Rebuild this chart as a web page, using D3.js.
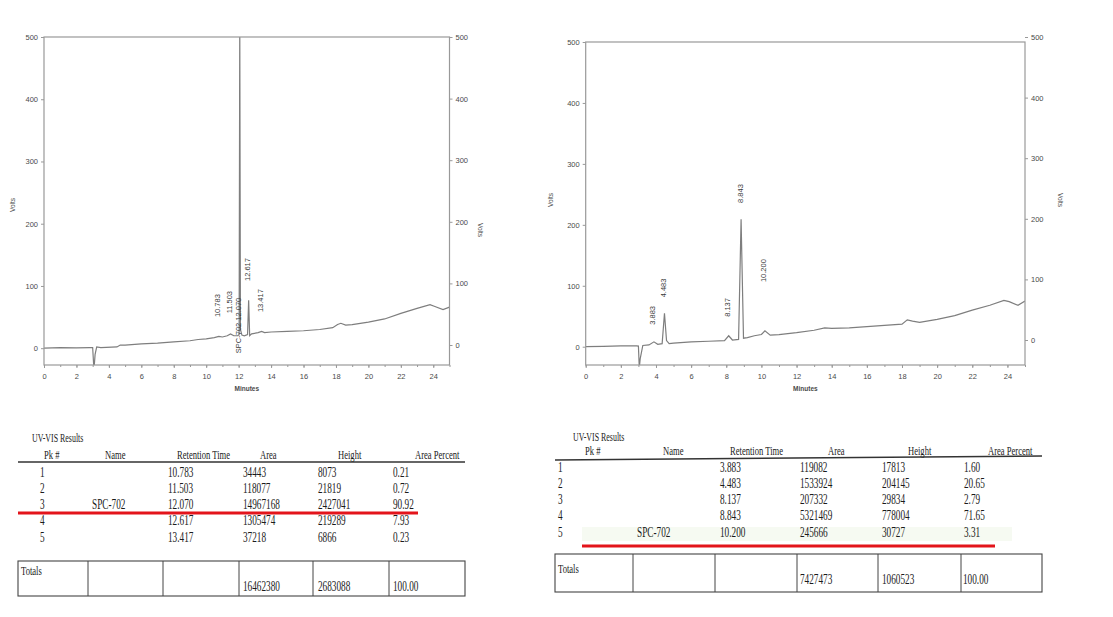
<!DOCTYPE html>
<html>
<head>
<meta charset="utf-8">
<script src="https://cdn.jsdelivr.net/npm/d3@7"></script>
<style>
  body { margin: 0; background: #fff; }
  svg { display: block; }
</style>
</head>
<body>
<div id="vis"></div>
<script>
// chromatogram traces, minutes / volts
var leftTime  = [0, 1, 2, 2.8, 3.0, 3.08, 3.15, 3.25, 3.5, 4.5, 4.7, 5, 6, 7, 8, 9, 9.5, 10, 10.5, 10.78, 11, 11.3, 11.5, 11.7, 11.95, 12.03, 12.07, 12.11, 12.2, 12.35, 12.55, 12.617, 12.68, 12.8, 13.2, 13.417, 13.6, 14, 15, 16, 17, 17.8, 18.1, 18.3, 18.6, 19, 20, 21, 22, 23, 23.8, 24.1, 24.6, 25];
var leftVolts = [0, 1, 0.5, 1, 1, -35, -10, 2, 1, 2, 5, 5, 7, 8, 10, 12, 14, 15, 17, 19, 18, 20, 23, 20, 20, 22, 530, 30, 21, 20, 22, 77, 20, 23, 25, 27, 25, 26, 27, 28, 30, 33, 38, 40, 37, 38, 42, 47, 56, 64, 70, 67, 62, 66];

var rightTime  = [0, 1, 2, 2.9, 3.0, 3.05, 3.1, 3.25, 3.6, 3.883, 4.1, 4.35, 4.483, 4.6, 4.75, 5, 6, 7, 7.9, 8.137, 8.35, 8.7, 8.843, 8.98, 9.2, 9.6, 10, 10.2, 10.5, 11, 12, 13, 13.6, 14, 15, 16, 17, 18, 18.3, 18.6, 19, 20, 21, 22, 23, 23.8, 24.1, 24.6, 25];
var rightVolts = [0, 0.5, 1.5, 1.5, 1, -35, -20, 2, 3, 8, 4, 5, 55, 10, 5, 6, 8, 9, 10, 18, 11, 12, 209, 14, 15, 18, 20, 26, 19, 20, 23, 27, 31, 30, 31, 33, 35, 37, 44, 42, 40, 45, 51, 60, 68, 76, 74, 68, 75];

// peak annotations (retention time, text, volts where the text starts)
var leftPeakRT    = [10.783, 11.503, 12.070, 12.617, 13.417];
var leftPeakText  = ["10.783", "11.503", "SPC-702  12.070", "12.617", "13.417"];
var leftPeakLabV  = [50, 56, -8, 108, 58];
var rightPeakRT   = [3.883, 4.483, 8.137, 8.843, 10.200];
var rightPeakText = ["3.883", "4.483", "8.137", "8.843", "10.200"];
var rightPeakLabV = [36, 81, 49, 236, 106];

var xTicks = [0, 2, 4, 6, 8, 10, 12, 14, 16, 18, 20, 22, 24];
var yTicks = [0, 100, 200, 300, 400, 500];

// result tables
var headers    = ["Pk #", "Name", "Retention Time", "Area", "Height", "Area Percent"];
var leftPk     = ["1", "2", "3", "4", "5"];
var leftName   = ["", "", "SPC-702", "", ""];
var leftRT     = ["10.783", "11.503", "12.070", "12.617", "13.417"];
var leftArea   = ["34443", "118077", "14967168", "1305474", "37218"];
var leftHeight = ["8073", "21819", "2427041", "219289", "6866"];
var leftPct    = ["0.21", "0.72", "90.92", "7.93", "0.23"];
var leftTotals = ["16462380", "2683088", "100.00"];

var rightPk     = ["1", "2", "3", "4", "5"];
var rightName   = ["", "", "", "", "SPC-702"];
var rightRT     = ["3.883", "4.483", "8.137", "8.843", "10.200"];
var rightArea   = ["119082", "1533924", "207332", "5321469", "245666"];
var rightHeight = ["17813", "204145", "29834", "778004", "30727"];
var rightPct    = ["1.60", "20.65", "2.79", "71.65", "3.31"];
var rightTotals = ["7427473", "1060523", "100.00"];

var width = 1113, height = 617;
var svg = d3.select('#vis').append('svg')
  .attr('width', width)
  .attr('height', height);

var axisColor = '#999';
var textColor = '#4a4a4a';
var sans = 'Liberation Sans, Arial, sans-serif';
var serif = 'Liberation Serif, Times New Roman, serif';

function chromatogram(opt) {
  var x = d3.scaleLinear().domain([0, 25]).range([opt.left, opt.right]);
  var y = d3.scaleLinear().domain([opt.yMin, 500]).range([opt.bottom, opt.top]);
  var yR = d3.scaleLinear().domain([0, 500]).range(opt.rightRange);
  var g = svg.append('g');

  g.append('clipPath').attr('id', opt.id + '-clip')
    .append('rect')
    .attr('x', opt.left).attr('y', opt.top)
    .attr('width', opt.right - opt.left).attr('height', opt.bottom - opt.top);

  var pts = opt.time.map(function (t, i) { return [t, opt.volts[i]]; });
  var line = d3.line()
    .x(function (d) { return x(d[0]); })
    .y(function (d) { return y(d[1]); });

  g.append('path')
    .datum(pts)
    .attr('clip-path', 'url(#' + opt.id + '-clip)')
    .attr('fill', 'none')
    .attr('stroke', '#7e7e7e')
    .attr('stroke-width', 1.2)
    .attr('d', line);

  // frame
  g.append('rect')
    .attr('x', opt.left).attr('y', opt.top)
    .attr('width', opt.right - opt.left).attr('height', opt.bottom - opt.top)
    .attr('fill', 'none').attr('stroke', axisColor).attr('stroke-width', 1.2);

  // axes
  var xAxis = d3.axisBottom(x).tickValues(xTicks).tickSize(3).tickPadding(6);
  var xMinor = d3.axisBottom(x).ticks(25).tickSize(2).tickFormat('');
  var yAxis = d3.axisLeft(y).tickValues(yTicks).tickSize(3).tickPadding(3);
  var yAxisR = d3.axisRight(yR).tickValues(yTicks).tickSize(3).tickPadding(3);

  [
    g.append('g').attr('transform', 'translate(0,' + opt.bottom + ')').call(xMinor),
    g.append('g').attr('transform', 'translate(0,' + opt.bottom + ')').call(xAxis),
    g.append('g').attr('transform', 'translate(' + opt.left + ',0)').call(yAxis),
    g.append('g').attr('transform', 'translate(' + opt.right + ',0)').call(yAxisR)
  ].forEach(function (a) {
    a.select('.domain').remove();
    a.selectAll('line').attr('stroke', axisColor);
    a.selectAll('text')
      .attr('fill', textColor)
      .style('font-family', sans)
      .style('font-size', '7.5px');
  });

  g.append('text')
    .attr('x', (opt.left + opt.right) / 2)
    .attr('y', opt.bottom + 26)
    .attr('text-anchor', 'middle')
    .attr('fill', textColor)
    .style('font-family', sans)
    .style('font-size', '6.5px')
    .style('font-weight', 'bold')
    .text('Minutes');

  g.append('text')
    .attr('transform', 'translate(' + opt.voltsL[0] + ',' + opt.voltsL[1] + ') rotate(-90)')
    .attr('text-anchor', 'middle')
    .attr('fill', textColor)
    .style('font-family', sans)
    .style('font-size', '6.5px')
    .text('Volts');

  g.append('text')
    .attr('transform', 'translate(' + opt.voltsR[0] + ',' + opt.voltsR[1] + ') rotate(90)')
    .attr('text-anchor', 'middle')
    .attr('fill', textColor)
    .style('font-family', sans)
    .style('font-size', '6.5px')
    .text('Volts');

  // peak labels
  g.selectAll('.peak')
    .data(opt.peakRT)
    .enter().append('text')
    .attr('class', 'peak')
    .attr('transform', function (d, i) {
      return 'translate(' + (x(d) + 1.5) + ',' + y(opt.peakV[i]) + ') rotate(-90)';
    })
    .attr('fill', '#3a3a3a')
    .style('font-family', sans)
    .style('font-size', '7.5px')
    .text(function (d, i) { return opt.peakText[i]; });
}

chromatogram({
  id: 'left', left: 44, right: 449.5, top: 37, bottom: 365, yMin: -27,
  rightRange: [345, 37],
  time: leftTime, volts: leftVolts,
  peakRT: leftPeakRT, peakText: leftPeakText, peakV: leftPeakLabV,
  voltsL: [15, 205], voltsR: [478, 230]
});

chromatogram({
  id: 'right', left: 585.7, right: 1025, top: 42, bottom: 365, yMin: -30,
  rightRange: [340, 37],
  time: rightTime, volts: rightVolts,
  peakRT: rightPeakRT, peakText: rightPeakText, peakV: rightPeakLabV,
  voltsL: [553, 200], voltsR: [1058, 200]
});

// squashed serif text, like the scanned printout
function tText(g, x, y, str, size) {
  g.append('text')
    .attr('transform', 'translate(' + x + ',' + y + ') scale(0.66,1)')
    .attr('fill', '#1a1a1a')
    .style('font-family', serif)
    .style('font-size', (size || 13) + 'px')
    .text(str);
}

function resultsTable(t) {
  var g = svg.append('g');
  var cols = [t.pk, t.name, t.rt, t.area, t.height, t.pct];

  if (t.highlight) {
    g.append('rect')
      .attr('x', t.highlight[0]).attr('y', t.highlight[1])
      .attr('width', t.highlight[2]).attr('height', t.highlight[3])
      .attr('fill', '#f6faf2');
  }

  tText(g, t.titleX, t.titleY, 'UV-VIS Results', 12);
  headers.forEach(function (h, i) { tText(g, t.headX[i], t.headY, h, 13); });

  g.append('line')
    .attr('x1', t.lineX[0]).attr('x2', t.lineX[1])
    .attr('y1', t.lineY[0]).attr('y2', t.lineY[1])
    .attr('stroke', '#333').attr('stroke-width', 1.6);

  cols.forEach(function (col, c) {
    col.forEach(function (v, r) {
      if (v !== '') tText(g, t.colX[c], t.rowY[r], v, 14);
    });
  });

  // red underline
  g.append('line')
    .attr('x1', t.redX[0]).attr('x2', t.redX[1])
    .attr('y1', t.redY).attr('y2', t.redY)
    .attr('stroke', '#e3141b').attr('stroke-width', 3);

  // totals box
  g.append('rect')
    .attr('x', t.boxX[0]).attr('y', t.boxY[0])
    .attr('width', t.boxX[1] - t.boxX[0]).attr('height', t.boxY[1] - t.boxY[0])
    .attr('fill', 'none').attr('stroke', '#444').attr('stroke-width', 1.1);
  t.dividers.forEach(function (d) {
    g.append('line')
      .attr('x1', d).attr('x2', d)
      .attr('y1', t.boxY[0]).attr('y2', t.boxY[1])
      .attr('stroke', '#444').attr('stroke-width', 1);
  });
  tText(g, t.boxX[0] + 3, t.totalsY, 'Totals', 13);
  t.totals.forEach(function (v, i) { tText(g, t.totX[i], t.totValY, v, 14); });
}

resultsTable({
  pk: leftPk, name: leftName, rt: leftRT, area: leftArea, height: leftHeight, pct: leftPct,
  totals: leftTotals,
  titleX: 32, titleY: 442,
  headX: [44, 105, 177, 260, 338, 415], headY: 459,
  lineX: [18, 465], lineY: [462, 462],
  colX: [40, 92, 168, 243, 318, 393],
  rowY: [477, 493, 509, 525, 542],
  redX: [18, 418], redY: 513,
  boxX: [18, 465], boxY: [561, 596],
  dividers: [88, 163, 239, 313, 389],
  totalsY: 575, totX: [243, 318, 393], totValY: 591
});

resultsTable({
  pk: rightPk, name: rightName, rt: rightRT, area: rightArea, height: rightHeight, pct: rightPct,
  totals: rightTotals,
  titleX: 573, titleY: 441,
  headX: [585, 663, 730, 828, 908, 988], headY: 455,
  lineX: [555, 1042], lineY: [460, 456],
  colX: [558, 637, 720, 800, 882, 964],
  rowY: [472, 488, 504, 520, 537],
  highlight: [582, 527, 430, 14],
  redX: [582, 995], redY: 546,
  boxX: [555, 1042], boxY: [554, 592],
  dividers: [633, 715, 797, 878, 961],
  totalsY: 573, totX: [800, 882, 963], totValY: 584
});
</script>
</body>
</html>
